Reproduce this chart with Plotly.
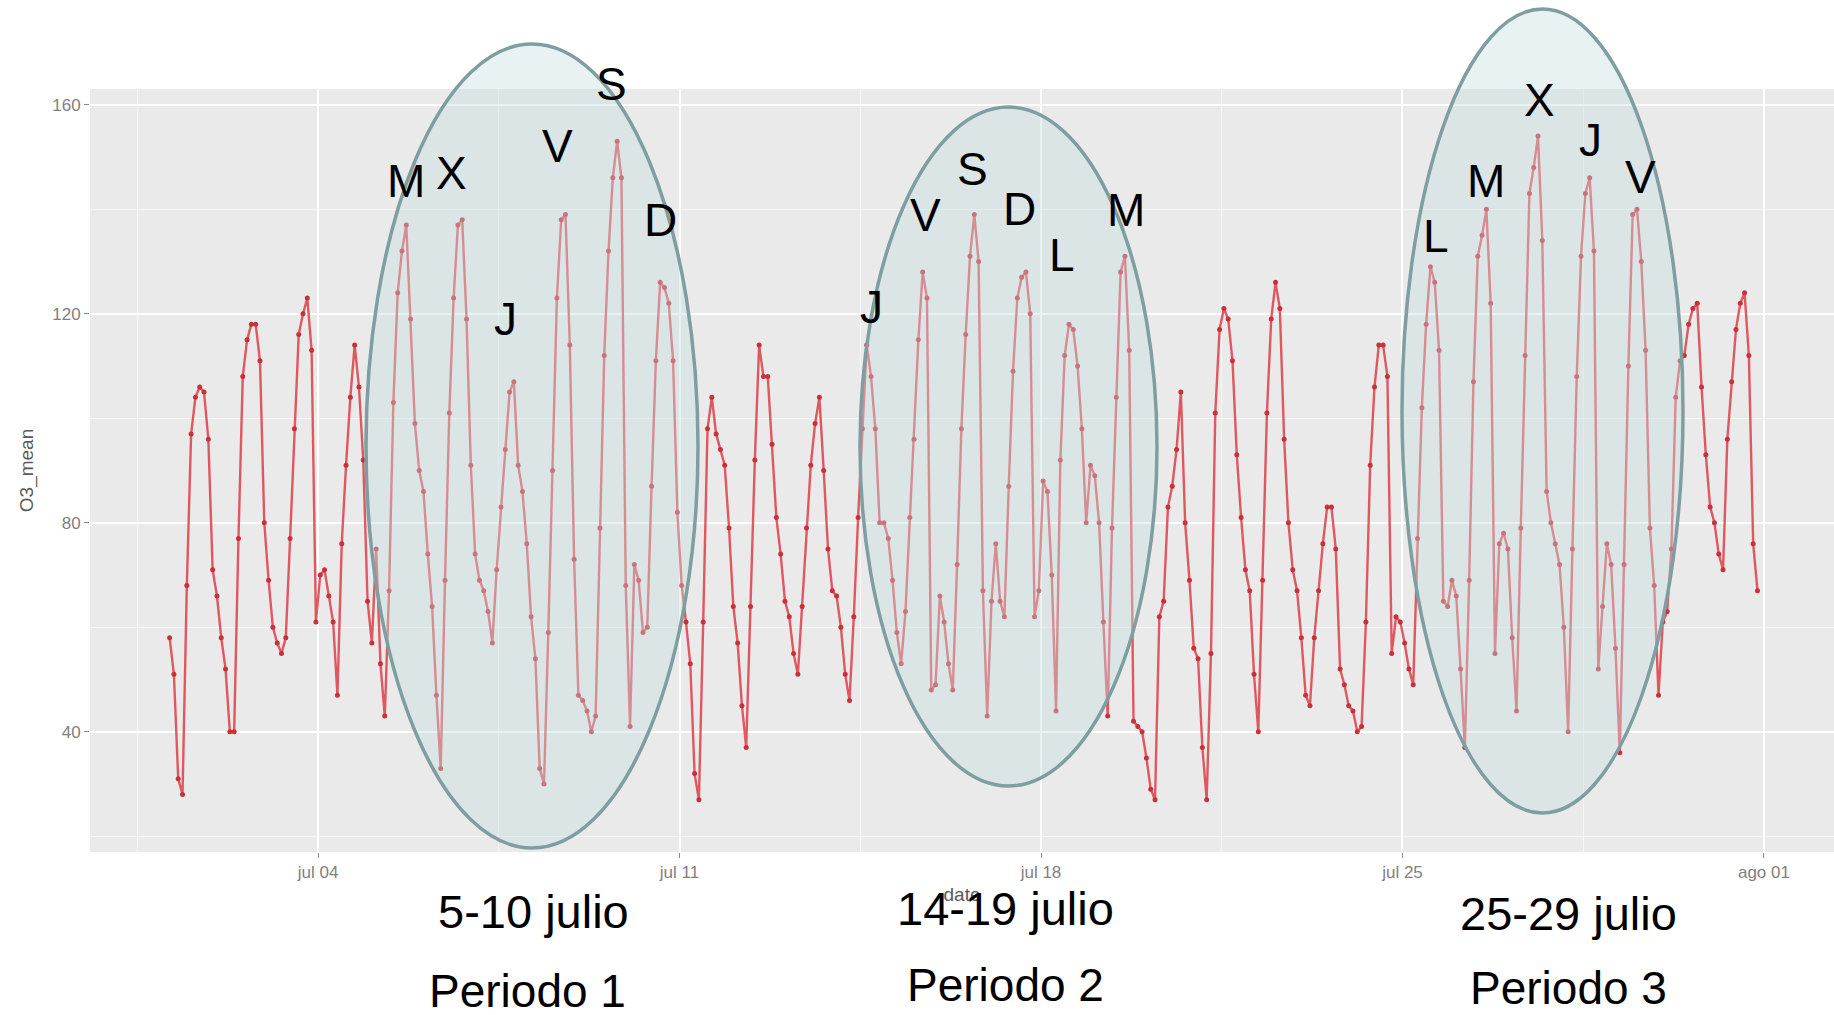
import pandas as pd
import plotly.graph_objects as go

# ---------------- data ----------------
start_time = "2019-07-01 03:00"   # first reading, one value every 2 hours
o3_mean = [
    58, 51, 31, 28, 68, 97, 104, 106, 105, 96, 71, 66, 58, 52, 40, 40,
    77, 108, 115, 118, 118, 111, 80, 69, 60, 57, 55, 58, 77, 98, 116, 120, 123, 113,
    61, 70, 71, 66, 61, 47, 76, 91, 104, 114, 106, 92, 65, 57, 75, 53, 43, 67, 103, 124, 132, 137,
    119, 99, 90, 86, 74, 64, 47, 33, 69, 101, 123, 137, 138,
    119, 91, 74, 69, 67, 63, 57, 71, 83, 94, 105, 107,
    91, 86, 76, 62, 54, 33, 30, 59, 90, 123, 138, 139,
    114, 73, 47, 46, 44, 40, 43, 79, 112, 132, 146, 153,
    146, 68, 41, 72, 69, 59, 60, 87, 111, 126, 125, 122, 111, 82, 68, 61,
    53, 32, 27, 61, 98, 104, 97, 94, 91, 79, 64, 57, 45, 37,
    64, 92, 114, 108, 108, 95, 81, 74, 65, 62, 55, 51,
    64, 79, 91, 99, 104, 90, 75, 67, 66, 60, 51, 46,
    62, 81, 98, 114, 108, 98, 80, 80, 77, 69, 59, 53,
    63, 81, 96, 115, 128, 123, 48, 49, 66, 61, 53, 48, 72, 98, 116, 131, 139, 130,
    67, 43, 65, 76, 65, 62, 87, 109, 123, 127, 128,
    120, 62, 67, 88, 86, 70, 44, 92, 112, 118, 117, 110, 98, 80, 91, 89, 80, 61, 43, 79, 104, 128, 131,
    113, 42, 41, 40, 35, 29, 27, 62, 65, 83, 87, 94, 105, 80, 69, 56, 54, 37, 27,
    55, 101, 117, 121, 119, 111, 93, 81, 71, 67, 51, 40, 69, 101, 119,
    126, 121, 96, 80, 71, 67, 58, 47, 45, 58, 67, 76, 83, 83, 75, 52, 49, 45, 44, 40,
    41, 61, 91, 106, 114, 114, 108, 55, 62, 61, 57, 52, 49,
    77, 102, 118, 129, 126, 113, 65, 64, 69, 66, 52, 37,
    69, 107, 131, 135, 140, 122, 55, 76, 78, 75, 58, 44,
    79, 112, 143, 148, 154, 134, 86, 80, 76, 72, 60, 40,
    75, 108, 131, 143, 146, 132, 52, 64, 76, 72, 56, 36,
    72, 110, 139, 140, 130, 113, 79, 68, 47, 61, 63, 75, 104, 111, 112, 118, 121, 122,
    106, 93, 83, 80, 74, 71, 96, 107, 117, 122, 124, 112, 76, 67,
]

x_tick_vals = ["2019-07-04", "2019-07-11", "2019-07-18", "2019-07-25", "2019-08-01"]
x_tick_text = ["jul 04", "jul 11", "jul 18", "jul 25", "ago 01"]
x_minor_vals = ["2019-06-30 12:00", "2019-07-07 12:00", "2019-07-14 12:00",
                "2019-07-21 12:00", "2019-07-28 12:00"]
y_tick_vals = [40, 80, 120, 160]
y_minor_vals = [20, 60, 100, 140]

period1_days = ["M", "X", "J", "V", "S", "D"]
period2_days = ["J", "V", "S", "D", "L", "M"]
period3_days = ["L", "M", "X", "J", "V"]
period_ranges = ["5-10 julio", "14-19 julio", "25-29 julio"]
period_names = ["Periodo 1", "Periodo 2", "Periodo 3"]

dates = pd.date_range(start_time, periods=len(o3_mean), freq="2h")

# ---------------- layout geometry (pixels) ----------------
W, H = 1834, 1015
L_M, R_M, T_M, B_M = 90, 0, 89, 163
PW, PH = W - L_M - R_M, H - T_M - B_M


def px(x):
    return (x - L_M) / PW


def py(y):
    return (H - B_M - y) / PH


fig = go.Figure()
fig.add_trace(go.Scatter(
    x=dates, y=o3_mean, mode="lines+markers",
    line=dict(color="rgba(222,62,70,0.85)", width=2.4),
    marker=dict(color="#c8303b", size=5),
    showlegend=False, hoverinfo="x+y",
))

# ellipses (pixel boxes: x0, x1, y_top, y_bottom)
ellipse_boxes = [(366, 698, 44, 848), (860, 1157, 107, 786), (1402, 1683, 9, 813)]
shapes = []
for x0, x1, yt, yb in ellipse_boxes:
    shapes.append(dict(
        type="circle", xref="paper", yref="paper",
        x0=px(x0), x1=px(x1), y0=py(yb), y1=py(yt),
        fillcolor="rgba(197,222,226,0.40)",
        line=dict(color="#7f9ea1", width=3.5),
        layer="above",
    ))

font_txt = "Liberation Sans, Arial, sans-serif"
letter_pos = [
    [(406, 181), (451, 173), (505, 319), (557, 146), (611, 84), (660, 220)],
    [(871, 307), (925, 215), (972, 169), (1019, 209), (1062, 255), (1126, 210)],
    [(1436, 236), (1486, 181), (1539, 100), (1590, 140), (1640, 177)],
]
annotations = []
for letters, positions in zip([period1_days, period2_days, period3_days], letter_pos):
    for t, (x, y) in zip(letters, positions):
        annotations.append(dict(
            text=t, x=px(x), y=py(y), xref="paper", yref="paper",
            xanchor="center", yanchor="middle", showarrow=False,
            font=dict(family=font_txt, size=46, color="black"),
        ))

range_pos = [(533, 911), (1005, 908), (1568, 914)]
name_pos = [(527, 991), (1005, 985), (1568, 988)]
for t, (x, y) in zip(period_ranges, range_pos):
    annotations.append(dict(
        text=t, x=px(x), y=py(y), xref="paper", yref="paper",
        xanchor="center", yanchor="middle", showarrow=False,
        font=dict(family=font_txt, size=47, color="black"),
    ))
for t, (x, y) in zip(period_names, name_pos):
    annotations.append(dict(
        text=t, x=px(x), y=py(y), xref="paper", yref="paper",
        xanchor="center", yanchor="middle", showarrow=False,
        font=dict(family=font_txt, size=46, color="black"),
    ))

fig.update_layout(
    width=W, height=H,
    margin=dict(l=L_M, r=R_M, t=T_M, b=B_M, autoexpand=False),
    paper_bgcolor="white", plot_bgcolor="#EAEAEA",
    shapes=shapes, annotations=annotations,
    font=dict(family=font_txt),
)
fig.update_xaxes(
    range=["2019-06-29 14:00", "2019-08-02 08:34"],
    tickmode="array", tickvals=x_tick_vals, ticktext=x_tick_text,
    ticks="outside", ticklen=5, tickcolor="#8a8a8a", tickwidth=1,
    tickfont=dict(size=17, color="#7f7f7f"),
    showgrid=True, gridcolor="white", gridwidth=1.6,
    minor=dict(tickmode="array", tickvals=x_minor_vals, showgrid=True,
               gridcolor="#F6F6F6", gridwidth=0.8, ticks=""),
    zeroline=False, showline=False,
    title=dict(text="date", font=dict(size=19, color="#5a5a5a"), standoff=6),
)
fig.update_yaxes(
    range=[17, 163],
    tickmode="array", tickvals=y_tick_vals,
    ticks="outside", ticklen=5, tickcolor="#8a8a8a", tickwidth=1,
    tickfont=dict(size=17, color="#7f7f7f"),
    showgrid=True, gridcolor="white", gridwidth=1.6,
    minor=dict(tickmode="array", tickvals=y_minor_vals, showgrid=True,
               gridcolor="#F6F6F6", gridwidth=0.8, ticks=""),
    zeroline=False, showline=False,
    title=dict(text="O3_mean", font=dict(size=19, color="#5a5a5a"), standoff=13),
)

fig.write_html("out.html")
